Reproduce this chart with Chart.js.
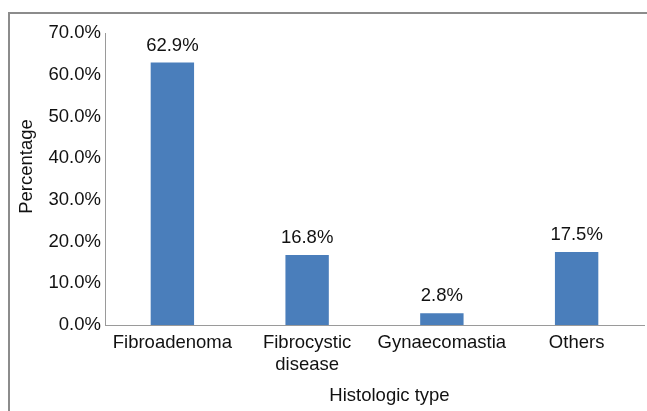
<!DOCTYPE html>
<html>
<head>
<meta charset="utf-8">
<script src="https://cdn.jsdelivr.net/npm/chart.js@4/dist/chart.umd.min.js"></script>
<style>
  html, body { margin: 0; padding: 0; background: #fff; overflow: hidden; }
  #frame { position: absolute; left: 8px; top: 12px; width: 700px; height: 460px;
           border-left: 2px solid #8c8c8c; border-top: 2px solid #8c8c8c; }
  #wrap { position: absolute; left: 0; top: 0; width: 647px; height: 411px; }
</style>
</head>
<body>
<div id="frame"></div>
<div id="wrap"><canvas id="c"></canvas></div>
<script>
// ---- data ----
const categories = [["Fibroadenoma"], ["Fibrocystic", "disease"], ["Gynaecomastia"], ["Others"]];
const percentages = [62.9, 16.8, 2.8, 17.5];
const yTicks = [0, 10, 20, 30, 40, 50, 60, 70];
const xTitle = "Histologic type";
const yTitle = "Percentage";

const FONT = "'Liberation Sans', Arial, sans-serif";
const FS = 18.5;
const TEXT = '#111';

Chart.defaults.font.family = FONT;
Chart.defaults.font.size = FS;
Chart.defaults.color = TEXT;

const labelsPlugin = {
  id: 'barLabels',
  afterDatasetsDraw(chart) {
    const ctx = chart.ctx;
    const meta = chart.getDatasetMeta(0);
    ctx.save();
    ctx.font = FS + 'px ' + FONT;
    ctx.fillStyle = TEXT;
    ctx.textAlign = 'center';
    ctx.textBaseline = 'middle';
    meta.data.forEach((bar, i) => {
      ctx.fillText(percentages[i].toFixed(1) + '%', bar.x, bar.y - 17);
    });
    ctx.restore();
  }
};

const titlesPlugin = {
  id: 'axisTitles',
  afterDraw(chart) {
    const ctx = chart.ctx;
    const a = chart.chartArea;
    ctx.save();
    ctx.font = FS + 'px ' + FONT;
    ctx.fillStyle = TEXT;
    ctx.textAlign = 'center';
    ctx.textBaseline = 'middle';
    // x title
    ctx.fillText(xTitle, (a.left + a.right) / 2 + 15, a.bottom + 71);
    // y title
    ctx.translate(27, (a.top + a.bottom) / 2 - 12.5);
    ctx.rotate(-Math.PI / 2);
    ctx.fillText(yTitle, 0, 0);
    ctx.restore();
  }
};

new Chart(document.getElementById('c'), {
  type: 'bar',
  data: {
    labels: categories,
    datasets: [{
      data: percentages,
      backgroundColor: '#4a7ebb',
      borderWidth: 0,
      categoryPercentage: 1.0,
      barPercentage: 0.322
    }]
  },
  options: {
    responsive: true,
    maintainAspectRatio: false,
    animation: false,
    events: [],
    layout: { padding: { top: 33, right: 3, left: 0, bottom: 0 } },
    plugins: { legend: { display: false }, tooltip: { enabled: false } },
    scales: {
      x: {
        grid: { display: false, drawTicks: false },
        border: { display: true, color: '#9a9a9a', width: 1 },
        ticks: { padding: 7, maxRotation: 0, autoSkip: false, color: TEXT,
                 font: { size: FS, lineHeight: 1.2 } },
        afterFit(scale) { scale.height = 86; }
      },
      y: {
        min: 0, max: 70,
        grid: { display: false, drawTicks: false },
        border: { display: true, color: '#9a9a9a', width: 1 },
        afterBuildTicks(scale) { scale.ticks = yTicks.map(v => ({ value: v })); },
        ticks: { padding: 4, color: TEXT, font: { size: FS },
                 callback: v => Number(v).toFixed(1) + '%' },
        afterFit(scale) { scale.width = 105; }
      }
    }
  },
  plugins: [labelsPlugin, titlesPlugin]
});
</script>
</body>
</html>
